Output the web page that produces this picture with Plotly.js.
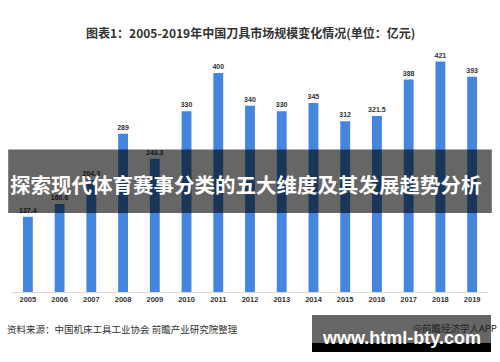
<!DOCTYPE html>
<html>
<head>
<meta charset="utf-8">
<script src="https://cdn.plot.ly/plotly-3.0.1.min.js"></script>
<style>
html,body{margin:0;padding:0;background:#fff;}
#chart{width:500px;height:362px;}
</style>
</head>
<body>
<div id="chart"></div>
<script>
const years = ['2005','2006','2007','2008','2009','2010','2011','2012','2013','2014','2015','2016','2017','2018','2019'];
const values = [137.4, 160.6, 204.3, 289, 243.3, 330, 400, 340, 330, 345, 312, 321.5, 388, 421, 393];
const valueLabels = ['137.4','160.6','204.3','289','243.3','330','400','340','330','345','312','321.5','388','421','393'];

const titleText = '图表1：2005-2019年中国刀具市场规模变化情况(单位：亿元)';
const sourceText = '资料来源：中国机床工具工业协会 前瞻产业研究院整理';
const bannerText = '探索现代体育赛事分类的五大维度及其发展趋势分析';
const appText = '@前瞻经济学人APP';
const siteText = 'www.html-bty.com';

const cjk = '"Noto Sans CJK SC", "Microsoft YaHei", sans-serif';
const lat = '"Liberation Sans", Arial, sans-serif';

const trace = {
  type: 'bar',
  x: years,
  y: values,
  text: valueLabels,
  textposition: 'outside',
  constraintext: 'none',
  cliponaxis: false,
  textfont: {family: lat, size: 7, color: '#333', weight: 'bold'},
  marker: {color: '#4286e0', line: {width: 0}},
  width: 0.31,
  hoverinfo: 'none'
};

const layout = {
  width: 500, height: 362,
  margin: {l: 12, r: 12, t: 50, b: 70},
  paper_bgcolor: '#ffffff',
  plot_bgcolor: '#ffffff',
  showlegend: false,
  bargap: 0.69,
  xaxis: {
    type: 'category',
    showgrid: false,
    zeroline: false,
    showline: true,
    linecolor: '#d9d9d9',
    linewidth: 1,
    ticks: '',
    tickfont: {family: lat, size: 7.5, color: '#333', weight: 'bold'},
    fixedrange: true
  },
  yaxis: {
    range: [0, 442],
    visible: false,
    showgrid: false,
    zeroline: false,
    fixedrange: true
  },
  shapes: [
    {type: 'rect', xref: 'paper', yref: 'paper', layer: 'above',
     x0: -0.008, x1: 1.008, y0: (292-213)/242, y1: (292-149.5)/242,
     fillcolor: 'rgba(0,0,0,0.6)', line: {width: 0}},
    {type: 'rect', xref: 'paper', yref: 'paper', layer: 'above',
     x0: (312-12)/476, x1: (491-12)/476, y0: (292-343)/242, y1: (292-315)/242,
     fillcolor: 'rgba(0,0,0,0.6)', line: {width: 0}},
    {type: 'rect', xref: 'paper', yref: 'paper', layer: 'above',
     x0: (312-12)/476, x1: (491-12)/476, y0: (292-352)/242, y1: (292-343)/242,
     fillcolor: '#000000', line: {width: 0}}
  ],
  annotations: [
    {text: titleText, xref: 'paper', yref: 'paper', x: (250-12)/476, y: (292-33)/242,
     xanchor: 'center', yanchor: 'middle', showarrow: false,
     font: {family: cjk, size: 12, color: '#333', weight: 'bold'}},
    {text: sourceText, xref: 'paper', yref: 'paper', x: (5-12)/476, y: (292-329)/242,
     xanchor: 'left', yanchor: 'middle', showarrow: false,
     font: {family: cjk, size: 9.5, color: '#333'}},
    {text: appText, xref: 'paper', yref: 'paper', x: (499-12)/476, y: (292-328)/242,
     xanchor: 'right', yanchor: 'middle', showarrow: false,
     font: {family: cjk, size: 9.5, color: '#222'}},
    {text: bannerText, xref: 'paper', yref: 'paper', x: (8-12)/476, y: (292-184)/242,
     xanchor: 'left', yanchor: 'middle', showarrow: false,
     font: {family: cjk, size: 20.5, color: '#ffffff', weight: 'bold'}},
    {text: siteText, xref: 'paper', yref: 'paper', x: (401-12)/476, y: (292-338)/242,
     xanchor: 'center', yanchor: 'middle', showarrow: false,
     font: {family: lat, size: 18, color: '#ffffff', weight: 'bold'}}
  ]
};

Plotly.newPlot('chart', [trace], layout, {displayModeBar: false, staticPlot: true});
</script>
</body>
</html>
